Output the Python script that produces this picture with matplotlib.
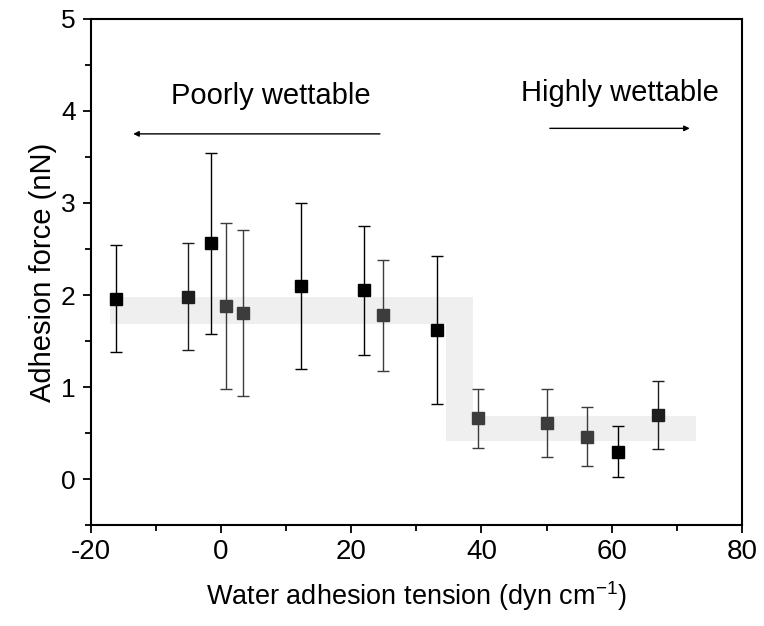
import matplotlib
matplotlib.use("Agg")
import matplotlib.pyplot as plt
from matplotlib.ticker import MultipleLocator

plt.rcParams["axes.unicode_minus"] = False

# Data
tension = [-16.1, -5.1, -1.6, 0.7, 3.4, 12.3, 21.9, 24.8, 33.2, 39.4, 50.0, 56.2, 61.0, 67.1]
force = [1.96, 1.98, 2.56, 1.88, 1.81, 2.10, 2.05, 1.78, 1.62, 0.66, 0.61, 0.46, 0.30, 0.70]
err_hi = [2.54, 2.56, 3.54, 2.78, 2.71, 3.00, 2.75, 2.38, 2.42, 0.98, 0.98, 0.78, 0.58, 1.07]
err_lo = [1.38, 1.40, 1.58, 0.98, 0.90, 1.20, 1.35, 1.18, 0.82, 0.34, 0.24, 0.14, 0.02, 0.33]
shade = ["k", "d", "k", "g", "g", "k", "k", "g", "k", "g", "g", "g", "k", "d"]

# Step-shaped band (x, y)
band_x = [-17.0, -17.0, 38.7, 38.7, 73.0, 73.0, 34.6, 34.6]
band_y = [1.69, 1.98, 1.98, 0.69, 0.69, 0.41, 0.41, 1.69]

colors = {"k": "#000000", "d": "#1e1e1e", "g": "#3c3c3c"}

fig = plt.figure(figsize=(7.64, 6.26), dpi=100)
ax = fig.add_axes([0.119, 0.161, 0.852, 0.809])

ax.fill(band_x, band_y, color="#efefef", lw=0, zorder=1)

for x, y, hi, lo, s in zip(tension, force, err_hi, err_lo, shade):
    c = colors[s]
    ax.errorbar([x], [y], yerr=[[y - lo], [hi - y]], fmt="s", color=c,
                ecolor=c, elinewidth=1.0, capsize=4.5, capthick=1.0,
                markersize=8, zorder=3)

ax.set_xlim(-20, 80)
ax.set_ylim(-0.5, 5)
ax.xaxis.set_major_locator(MultipleLocator(20))
ax.xaxis.set_minor_locator(MultipleLocator(10))
ax.yaxis.set_major_locator(MultipleLocator(1))
ax.yaxis.set_minor_locator(MultipleLocator(0.5))
ax.tick_params(which="both", direction="out", top=False, right=False, width=1.3)
ax.tick_params(which="major", length=6)
ax.tick_params(which="minor", length=4)
for sp in ax.spines.values():
    sp.set_linewidth(1.5)

narrow = ["Liberation Sans Narrow", "Liberation Sans", "DejaVu Sans"]
normal = ["Liberation Sans", "DejaVu Sans"]
for lab in ax.get_xticklabels():
    lab.set_fontfamily(narrow)
    lab.set_fontsize(20)
for lab in ax.get_yticklabels():
    lab.set_fontfamily(normal)
    lab.set_fontsize(19)
ax.tick_params(axis="x", pad=4)
ax.tick_params(axis="y", pad=5)

ax.set_xlabel("Water adhesion tension (dyn cm$^{\\mathregular{-1}}$)", fontsize=19.5,
              family=narrow, labelpad=10)
ax.set_ylabel("Adhesion force (nN)", fontsize=21, family=normal, labelpad=3)

ax.text(7.6, 4.16, "Poorly wettable", fontsize=21, family=normal, ha="center", va="center")
ax.text(61.3, 4.19, "Highly wettable", fontsize=21, family=normal, ha="center", va="center")
ax.annotate("", xy=(-13.5, 3.75), xytext=(24.4, 3.75),
            arrowprops=dict(arrowstyle="-|>", color="black", lw=1.0,
                            mutation_scale=8, shrinkA=0, shrinkB=0))
ax.annotate("", xy=(72.0, 3.81), xytext=(50.5, 3.81),
            arrowprops=dict(arrowstyle="-|>", color="black", lw=1.0,
                            mutation_scale=8, shrinkA=0, shrinkB=0))

fig.savefig("out.png", dpi=100)
